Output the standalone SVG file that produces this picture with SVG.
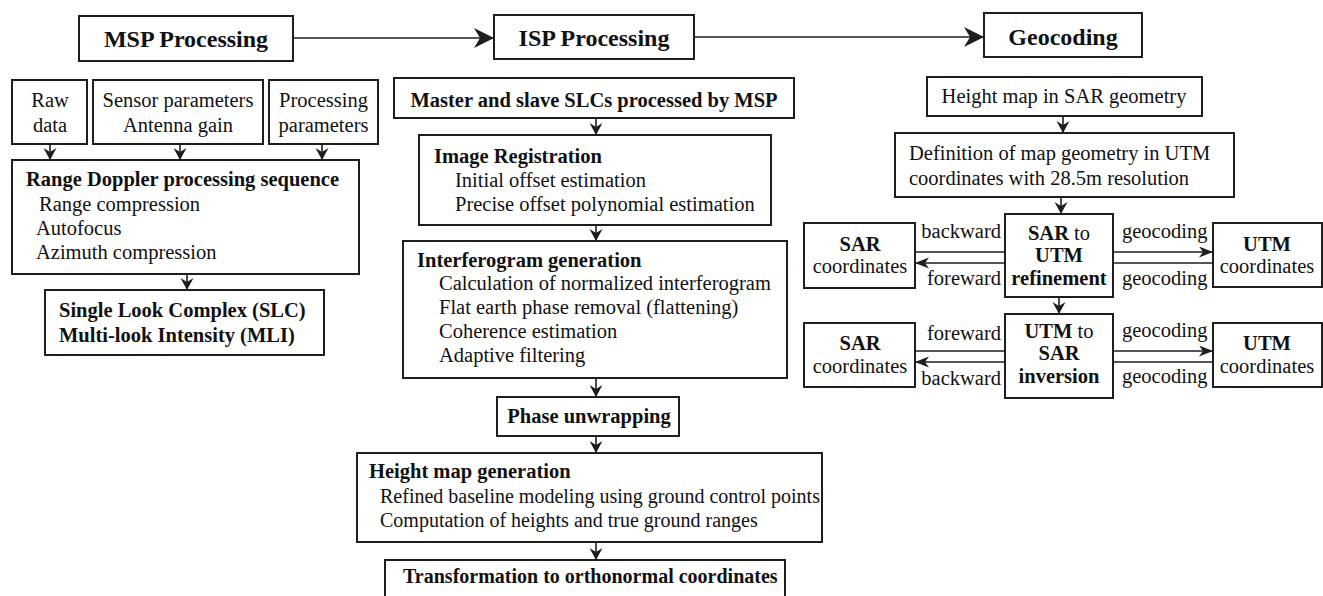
<svg xmlns="http://www.w3.org/2000/svg" width="1323" height="596" viewBox="0 0 1323 596">
<style>
.box{fill:#fff;stroke:#1e1e1e;stroke-width:2}
.ln{stroke:#1e1e1e;stroke-width:1.6;fill:none}
text{font-family:"Liberation Serif","Times New Roman",serif;font-size:20.5px;fill:#111}
.b{font-weight:bold}
.h{font-size:24px;font-weight:bold}
.c{text-anchor:middle}
.e{text-anchor:end}
.s{font-size:20px}
</style>
<defs>
<marker id="big" markerUnits="userSpaceOnUse" markerWidth="22" markerHeight="22" refX="20" refY="10" orient="auto" viewBox="0 0 22 22">
<path d="M20,10 L0,0 L6,10 L0,20 Z" fill="#1e1e1e"/>
</marker>
<marker id="sm" markerUnits="userSpaceOnUse" markerWidth="14" markerHeight="14" refX="12" refY="6.5" orient="auto" viewBox="0 0 14 14">
<path d="M12,6.5 L0,0 L4,6.5 L0,13 Z" fill="#1e1e1e"/>
</marker>
<marker id="sd" markerUnits="userSpaceOnUse" markerWidth="16" markerHeight="14" refX="14" refY="5.5" orient="auto" viewBox="0 0 16 14">
<path d="M14,5.5 L0,0 L4,5.5 L0,11 Z" fill="#1e1e1e"/>
</marker>
</defs>
<rect width="1323" height="596" fill="#fff"/>

<g id="connectors">
<line class="ln" x1="293" y1="38" x2="494" y2="38" marker-end="url(#big)"/>
<line class="ln" x1="694" y1="37" x2="984" y2="37" marker-end="url(#big)"/>
<line class="ln" x1="50" y1="144" x2="50" y2="160" marker-end="url(#sm)"/>
<line class="ln" x1="180" y1="144" x2="180" y2="160" marker-end="url(#sm)"/>
<line class="ln" x1="322" y1="144" x2="322" y2="160" marker-end="url(#sm)"/>
<line class="ln" x1="187" y1="274" x2="187" y2="290" marker-end="url(#sm)"/>
<line class="ln" x1="596" y1="118" x2="596" y2="135" marker-end="url(#sm)"/>
<line class="ln" x1="596" y1="225" x2="596" y2="241" marker-end="url(#sm)"/>
<line class="ln" x1="596" y1="378" x2="596" y2="397" marker-end="url(#sm)"/>
<line class="ln" x1="596" y1="436" x2="596" y2="453" marker-end="url(#sm)"/>
<line class="ln" x1="596" y1="542" x2="596" y2="560" marker-end="url(#sm)"/>
<line class="ln" x1="1063" y1="116" x2="1063" y2="133" marker-end="url(#sm)"/>
<line class="ln" x1="1061" y1="197" x2="1061" y2="214" marker-end="url(#sm)"/>
<line class="ln" x1="1059" y1="297" x2="1059" y2="314" marker-end="url(#sm)"/>
<line class="ln" x1="915" y1="252" x2="1005" y2="252"/>
<line class="ln" x1="1005" y1="263" x2="915" y2="263" marker-end="url(#sd)"/>
<line class="ln" x1="1113" y1="252" x2="1213" y2="252" marker-end="url(#sd)"/>
<line class="ln" x1="1113" y1="263" x2="1213" y2="263"/>
<line class="ln" x1="915" y1="351" x2="1005" y2="351"/>
<line class="ln" x1="1005" y1="362" x2="915" y2="362" marker-end="url(#sd)"/>
<line class="ln" x1="1113" y1="351" x2="1213" y2="351" marker-end="url(#sd)"/>
<line class="ln" x1="1113" y1="362" x2="1213" y2="362"/>
<text class="e" x="1001" y="238">backward</text>
<text class="e" x="1001" y="285">foreward</text>
<text x="1122" y="238">geocoding</text>
<text x="1122" y="285">geocoding</text>
<text class="e" x="1001" y="340">foreward</text>
<text class="e" x="1001" y="385">backward</text>
<text x="1122" y="337">geocoding</text>
<text x="1122" y="383">geocoding</text>
</g>

<g id="msp">
<rect class="box" x="79" y="16" width="214" height="45"/>
<text class="h c" x="186" y="47">MSP Processing</text>
</g>
<g id="isp">
<rect class="box" x="494" y="15" width="200" height="44"/>
<text class="h c" x="594" y="46">ISP Processing</text>
</g>
<g id="geocoding">
<rect class="box" x="984" y="13" width="158" height="44"/>
<text class="h c" x="1063" y="45">Geocoding</text>
</g>

<g id="raw">
<rect class="box" x="12" y="80" width="75" height="64"/>
<text class="c" x="50" y="107">Raw</text>
<text class="c" x="50" y="132">data</text>
</g>
<g id="sensor">
<rect class="box" x="93" y="80" width="170" height="64"/>
<text class="c" x="178" y="107">Sensor parameters</text>
<text class="c" x="178" y="132">Antenna gain</text>
</g>
<g id="procparams">
<rect class="box" x="269" y="80" width="109" height="64"/>
<text class="c" x="323.5" y="107">Processing</text>
<text class="c" x="323.5" y="132">parameters</text>
</g>
<g id="rangedoppler">
<rect class="box" x="12" y="160" width="347" height="114"/>
<text class="b" x="26" y="186">Range Doppler processing sequence</text>
<text x="39" y="211">Range compression</text>
<text x="36" y="235">Autofocus</text>
<text x="36" y="259">Azimuth compression</text>
</g>
<g id="slc">
<rect class="box" x="45" y="290" width="279" height="65"/>
<text class="b" x="59" y="317">Single Look Complex (SLC)</text>
<text class="b" x="59" y="342">Multi-look Intensity (MLI)</text>
</g>

<g id="master">
<rect class="box" x="394" y="78" width="400" height="40"/>
<text class="b c" x="594" y="107">Master and slave SLCs processed by MSP</text>
</g>
<g id="registration">
<rect class="box" x="419" y="135" width="352" height="90"/>
<text class="b" x="434" y="163">Image Registration</text>
<text x="455" y="187">Initial offset estimation</text>
<text x="455" y="211">Precise offset polynomial estimation</text>
</g>
<g id="interferogram">
<rect class="box" x="403" y="241" width="384" height="137"/>
<text class="b" x="417" y="267">Interferogram generation</text>
<text x="439" y="290">Calculation of normalized interferogram</text>
<text x="439" y="314">Flat earth phase removal (flattening)</text>
<text x="439" y="338">Coherence estimation</text>
<text x="439" y="362">Adaptive filtering</text>
</g>
<g id="unwrapping">
<rect class="box" x="497" y="397" width="182" height="39"/>
<text class="b c" x="589" y="423">Phase unwrapping</text>
</g>
<g id="heightmap">
<rect class="box" x="357" y="453" width="465" height="89"/>
<text class="b" x="369" y="478">Height map generation</text>
<text class="s" x="380" y="503">Refined baseline modeling using ground control points</text>
<text class="s" x="380" y="527">Computation of heights and true ground ranges</text>
</g>
<g id="transformation">
<rect class="box" x="385" y="560" width="400" height="45"/>
<text class="b s" x="403" y="583">Transformation to orthonormal coordinates</text>
</g>

<g id="sargeom">
<rect class="box" x="927" y="77" width="275" height="39"/>
<text class="c" x="1064" y="103">Height map in SAR geometry</text>
</g>
<g id="definition">
<rect class="box" x="895" y="133" width="339" height="64"/>
<text x="909" y="160">Definition of map geometry in UTM</text>
<text x="909" y="185">coordinates with 28.5m resolution</text>
</g>
<g id="refinement">
<rect class="box" x="1005" y="214" width="108" height="83"/>
<text class="c" x="1059" y="240"><tspan class="b">SAR</tspan> to</text>
<text class="b c" x="1059" y="262">UTM</text>
<text class="b c" x="1059" y="285">refinement</text>
</g>
<g id="sar1">
<rect class="box" x="804" y="223" width="111" height="65"/>
<text class="b c" x="860" y="251">SAR</text>
<text class="c" x="860" y="273">coordinates</text>
</g>
<g id="utm1">
<rect class="box" x="1213" y="223" width="109" height="64"/>
<text class="b c" x="1267" y="251">UTM</text>
<text class="c" x="1267" y="273">coordinates</text>
</g>
<g id="inversion">
<rect class="box" x="1005" y="314" width="108" height="84"/>
<text class="c" x="1059" y="338"><tspan class="b">UTM</tspan> to</text>
<text class="b c" x="1059" y="360">SAR</text>
<text class="b c" x="1059" y="383">inversion</text>
</g>
<g id="sar2">
<rect class="box" x="804" y="323" width="111" height="64"/>
<text class="b c" x="860" y="350">SAR</text>
<text class="c" x="860" y="373">coordinates</text>
</g>
<g id="utm2">
<rect class="box" x="1213" y="323" width="109" height="64"/>
<text class="b c" x="1267" y="350">UTM</text>
<text class="c" x="1267" y="373">coordinates</text>
</g>
</svg>
